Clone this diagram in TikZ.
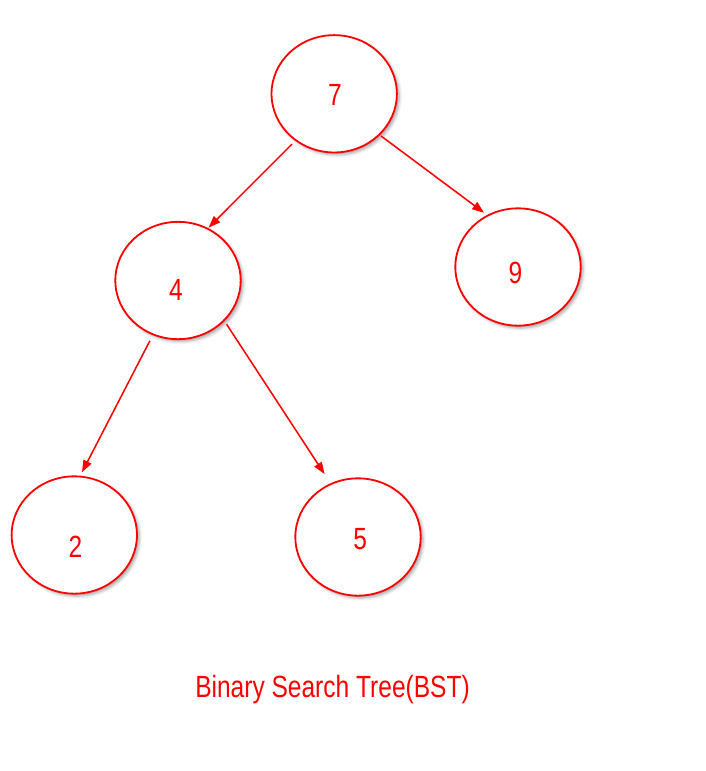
\documentclass[tikz,border=0pt]{standalone}
\usepackage{fontspec}
\setmainfont{Liberation Sans}[FakeStretch=0.8]
\usetikzlibrary{arrows.meta,shapes.geometric,shadows.blur,calc}
\definecolor{bstred}{RGB}{255,0,0}
\tikzset{
  bstnode/.style={ellipse, draw=bstred, line width=1.35pt, fill=white,
    minimum width=94pt, minimum height=88pt, inner sep=0pt,
    blur shadow={shadow xshift=1.8pt, shadow yshift=-1.8pt, shadow blur radius=2.2pt, shadow opacity=35}},
  digit/.style={text=bstred, font=\fontsize{23}{27}\selectfont, inner sep=0pt},
  bstarrow/.style={draw=bstred, line width=1.15pt, -{Triangle[length=9pt,width=6.5pt]}},
}
\begin{document}
\begin{tikzpicture}[x=0.75pt,y=-0.75pt]
\useasboundingbox (0,0) rectangle (706,771);
\node[bstnode] (n7) at (334.2,93.8) {};
\node[bstnode] (n9) at (518,267) {};
\node[bstnode] (n4) at (178,280.5) {};
\node[bstnode] (n2) at (74.3,535) {};
\node[bstnode] (n5) at (358,537) {};
\node[digit] (t7) at (335,95) {7};
\node[digit] (t9) at (515.5,272.5) {9};
\node[digit] (t4) at (176,289.5) {4};
\node[digit] (t2) at (75.5,546.5) {2};
\node[digit] (t5) at (360.3,539.2) {5};
\draw[bstarrow] ($(n7.center)!1.075!(n7.230.3)$) -- ($(n4.center)!1.008!(n4.60.1)$);
\draw[bstarrow] ($(n7.center)!1.023!(n7.318)$) -- ($(n9.center)!1.055!(n9.122.9)$);
\draw[bstarrow] ($(n4.center)!1.104!(n4.245.1)$) -- ($(n2.center)!1.06!(n2.83.9)$);
\draw[bstarrow] ($(n4.center)!1.06!(n4.318.2)$) -- ($(n5.center)!1.179!(n5.118.3)$);
\node[digit, anchor=base] (cap) at (332.5,697.3) {Binary Search Tree(BST)};
\end{tikzpicture}
\end{document}
